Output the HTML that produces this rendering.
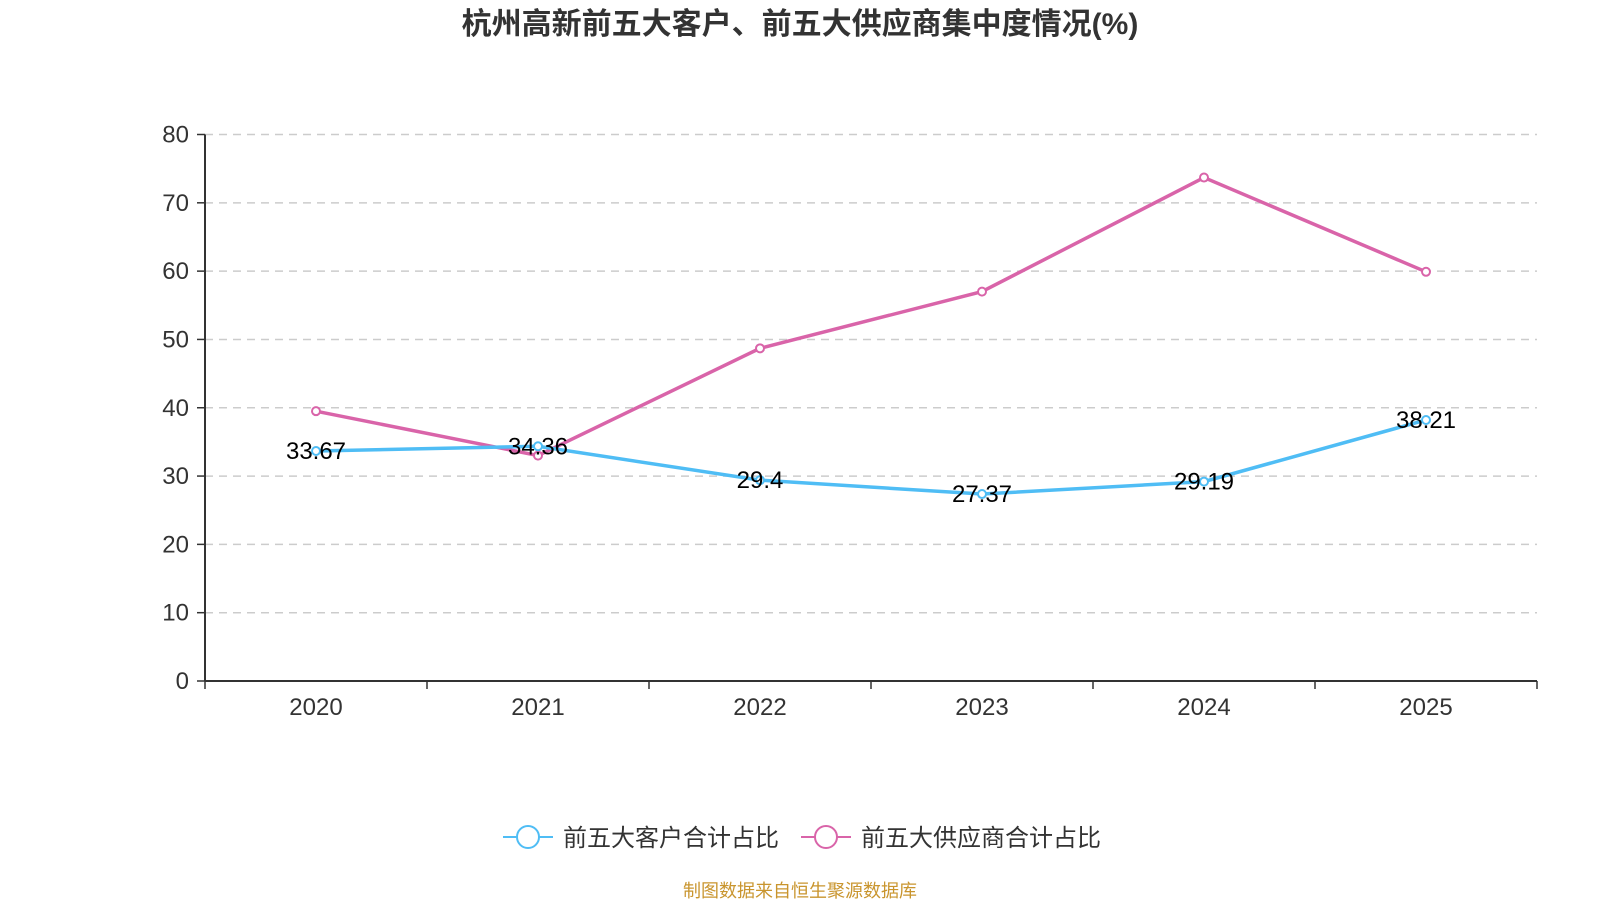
<!DOCTYPE html>
<html><head><meta charset="utf-8"><style>
body{margin:0;background:#fff;width:1600px;height:900px;overflow:hidden}
svg text{font-family:"Liberation Sans","Noto Sans CJK SC",sans-serif}
</style></head><body>
<svg id="c" width="1600" height="900" xmlns="http://www.w3.org/2000/svg">
<text x="800" y="34" text-anchor="middle" font-size="30" font-weight="bold" fill="#333">杭州高新前五大客户、前五大供应商集中度情况(%)</text>
<g id="grid"></g><g id="series"></g>
<g>
<g><line x1="503" y1="837" x2="553" y2="837" stroke="#4fbdf5" stroke-width="2"/><circle cx="528" cy="837" r="11" fill="#fff" stroke="#4fbdf5" stroke-width="2"/><text x="563" y="846" font-size="24" fill="#333">前五大客户合计占比</text></g>
<g><line x1="801" y1="837" x2="851" y2="837" stroke="#d964a9" stroke-width="2"/><circle cx="826" cy="837" r="11" fill="#fff" stroke="#d964a9" stroke-width="2"/><text x="861" y="846" font-size="24" fill="#333">前五大供应商合计占比</text></g>
</g>
<text x="800" y="897" text-anchor="middle" font-size="18" fill="#c9952e">制图数据来自恒生聚源数据库</text>
</svg>
<script>
const categories=["2020","2021","2022","2023","2024","2025"];
const customers=[33.67,34.36,29.4,27.37,29.19,38.21];
const suppliers=[39.5,33.0,48.7,57.0,73.7,59.9];
const yTicks=[0,10,20,30,40,50,60,70,80];
const NS="http://www.w3.org/2000/svg";
const L=205,R=1537,T=134.5,B=681;
const ymax=80;
const bw=(R-L)/categories.length;
const xs=i=>L+bw*(i+0.5);
const ys=v=>B-(v/ymax)*(B-T);
function mk(t,a,p){const e=document.createElementNS(NS,t);for(const k in a)e.setAttribute(k,a[k]);p.appendChild(e);return e;}
const g=document.getElementById('grid'),s=document.getElementById('series');
yTicks.forEach(v=>{
 const y=ys(v);
 if(v>0){const l=mk('line',{x1:L,x2:R,y1:y,y2:y,stroke:'#ccc','stroke-width':1.5,'stroke-dasharray':'8,6'},g);
 
 }
 mk('line',{x1:L-8,x2:L,y1:y,y2:y,stroke:'#333','stroke-width':1.5},g);
 const t=mk('text',{x:L-16,y:y+8,'text-anchor':'end','font-size':24,fill:'#333'},g);t.textContent=v;
 
 
});
mk('line',{x1:L,x2:L,y1:T,y2:B,stroke:'#333','stroke-width':2},g);
mk('line',{x1:L,x2:R,y1:B,y2:B,stroke:'#333','stroke-width':2},g);
for(let i=0;i<=categories.length;i++)mk('line',{x1:L+bw*i,x2:L+bw*i,y1:B,y2:B+8,stroke:'#333','stroke-width':1.5},g);
categories.forEach((c,i)=>{const t=mk('text',{x:xs(i),y:B+34,'text-anchor':'middle','font-size':24,fill:'#333'},g);t.textContent=c;
 
 });
function series(vals,color,name,labels){
 const p=mk('polyline',{points:vals.map((v,i)=>xs(i)+','+ys(v)).join(' '),fill:'none',stroke:color,'stroke-width':3.5},s);
 
 
 vals.forEach((v,i)=>{const c=mk('circle',{cx:xs(i),cy:ys(v),r:4,fill:'#fff',stroke:color,'stroke-width':2},s);
  
  
  if(labels){const t=mk('text',{x:xs(i),y:ys(v)+8,'text-anchor':'middle','font-size':24,fill:'#000'},s);t.textContent=v;
  
  }});
}
series(suppliers,'#d964a9','suppliers',false);
series(customers,'#4fbdf5','customers',true);
</script>
</body></html>
